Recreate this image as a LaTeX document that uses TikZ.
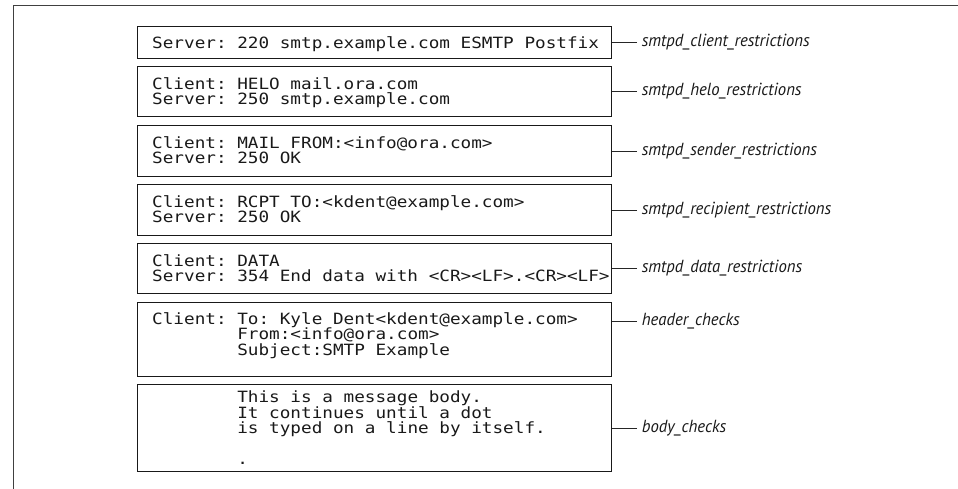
\documentclass[tikz,border=0pt]{standalone}
\usepackage{fontspec}
\setmonofont{DejaVu Sans Mono}[FakeStretch=1.14]
\newfontfamily\paramfamily{PT Sans}[FakeStretch=0.955]
\usetikzlibrary{positioning}
\newcommand\dialogfont{\ttfamily\fontsize{15.5}{15.5}\selectfont\lineskiplimit=-30pt\relax}
\newcommand\paramfont{\paramfamily\itshape\fontsize{17.5}{19}\selectfont}
\newcommand\cont{\hphantom{Client:\ }}
\tikzset{
    stage/.style={draw=black!90, line width=1.1pt, minimum width=474pt, inner sep=0pt, anchor=north west},
    dialog/.style={inner sep=0pt, align=left, font=\dialogfont, text=black!90},
    param/.style={inner xsep=4.5pt, inner ysep=0pt, anchor=west, font=\paramfont, text=black!90, text height=12.5pt, text depth=4.5pt},
    link/.style={line width=0.8pt, draw=black!85},
  }

\begin{document}
\begin{tikzpicture}[x=1pt,y=-1pt]
  \useasboundingbox (0,0) rectangle (958,489);
  \draw[line width=0.9pt, black!75] (13,489) -- (13,5) -- (958,5);
  % one box per stage of the session
  \node[stage, minimum height=32pt] (banner) at (137,26) {};
  \node[stage, minimum height=50pt] (helo) at (137,66) {};
  \node[stage, minimum height=51pt] (mailfrom) at (137,125) {};
  \node[stage, minimum height=51pt] (rcptto) at (137,184) {};
  \node[stage, minimum height=50pt] (data) at (137,243) {};
  \node[stage, minimum height=74pt] (header) at (137,302) {};
  \node[stage, minimum height=87pt] (body) at (137,384) {};
  % what is said in it
  \node[dialog, below right=10pt and 15pt of banner.north west] (bannertxt) {Server: 220 smtp.example.com ESMTP Postfix};
  \node[dialog, below right=11pt and 15pt of helo.north west] (helotxt) {Client: HELO mail.ora.com\\Server: 250 smtp.example.com};
  \node[dialog, below right=11pt and 15pt of mailfrom.north west] (mailfromtxt) {Client: MAIL FROM:<info@ora.com>\\Server: 250 OK};
  \node[dialog, below right=11pt and 15pt of rcptto.north west] (rcpttotxt) {Client: RCPT TO:<kdent@example.com>\\Server: 250 OK};
  \node[dialog, below right=11pt and 15pt of data.north west] (datatxt) {Client: DATA\\Server: 354 End data with <CR><LF>.<CR><LF>};
  \node[dialog, below right=10pt and 15pt of header.north west] (headertxt) {Client: To: Kyle Dent<kdent@example.com>\\\cont From:<info@ora.com>\\\cont Subject:SMTP Example};
  \node[dialog, below right=7pt and 15pt of body.north west] (bodytxt) {\cont This is a message body.\\\cont It continues until a dot\\\cont is typed on a line by itself.\\~\\\cont .};
  % the restriction that is checked at each stage
  \node[param, right=25pt of banner] (clientchk) {smtpd\_client\_restrictions};
  \node[param, right=25pt of helo] (helochk) {smtpd\_helo\_restrictions};
  \node[param, right=25pt of mailfrom] (senderchk) {smtpd\_sender\_restrictions};
  \node[param, right=25pt of rcptto] (recipientchk) {smtpd\_recipient\_restrictions};
  \node[param, right=25pt of data] (datachk) {smtpd\_data\_restrictions};
  \node[param, right=25pt of header.north east, yshift=-19pt] (headerchk) {header\_checks};
  \node[param, right=25pt of body] (bodychk) {body\_checks};
  \draw[link] (clientchk.west) -- (clientchk.west -| banner.east);
  \draw[link] (helochk.west) -- (helochk.west -| helo.east);
  \draw[link] (senderchk.west) -- (senderchk.west -| mailfrom.east);
  \draw[link] (recipientchk.west) -- (recipientchk.west -| rcptto.east);
  \draw[link] (datachk.west) -- (datachk.west -| data.east);
  \draw[link] (headerchk.west) -- (headerchk.west -| header.east);
  \draw[link] (bodychk.west) -- (bodychk.west -| body.east);
\end{tikzpicture}
\end{document}
